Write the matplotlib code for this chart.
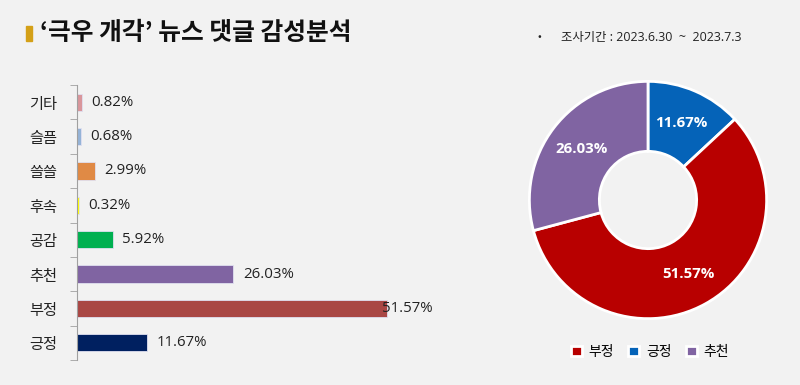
import numpy as np
import matplotlib.pyplot as plt
from matplotlib.patches import Rectangle

plt.rcParams['font.family'] = ['Noto Sans CJK KR', 'DejaVu Sans']
LATIN = ['Open Sans', 'Noto Sans CJK KR']

# 막대 그래프 데이터 (위에서 아래 순서)
bar_labels = ['기타', '슬픔', '쓸쓸', '후속', '공감', '추천', '부정', '긍정']
bar_values = [0.82, 0.68, 2.99, 0.32, 5.92, 26.03, 51.57, 11.67]
bar_colors = ['#D9969B', '#95B3D7', '#E08A45', '#FFFF00', '#00B050',
              '#8064A2', '#A94744', '#002060']

# 도넛 데이터
pie_labels = ['긍정', '부정', '추천']
pie_values = [11.67, 51.57, 26.03]
pie_colors = ['#0563B8', '#B80000', '#8064A2']
legend_order = ['부정', '긍정', '추천']

BG = '#F2F2F2'

fig = plt.figure(figsize=(8, 3.85), dpi=100, facecolor=BG)

# 제목
fig.patches.append(Rectangle((26 / 800, 1 - 41 / 385), 6 / 800, 15 / 385,
                             transform=fig.transFigure, color='#D4A017'))
fig.text(40 / 800, 1 - 33 / 385, "‘극우 개각’ 뉴스 댓글 감성분석", fontsize=17.8,
         fontweight='bold', va='center', ha='left', color='#111111')
fig.text(538 / 800, 1 - 37 / 385, "•", fontsize=8, va='center', ha='left', color='#222222')
fig.text(561 / 800, 1 - 37 / 385, "조사기간 : 2023.6.30  ~  2023.7.3", fontsize=8.9,
         family=LATIN, va='center', ha='left', color='#222222')

# 가로 막대
ax = fig.add_axes([77 / 800, 1 - 360 / 385, 380 / 800, 275 / 385], facecolor=BG)
n = len(bar_labels)
y = np.arange(n)[::-1]
ax.barh(y, bar_values, height=0.5, color=bar_colors, edgecolor='#E0E0F0', linewidth=0.6)
vmax = max(bar_values)
for yi, v in zip(y, bar_values):
    x = v - 0.8 if v == vmax else v + 1.6
    ax.text(x, yi, f'{v:.2f}%', va='center', ha='left', fontsize=10.8,
            family=LATIN, color='#222222')
ax.set_xlim(0, 63.3)
ax.set_ylim(-0.5, n - 0.5)
ax.set_yticks(y)
ax.set_yticklabels(bar_labels, fontsize=11, color='#222222')
ax.set_yticks(np.arange(n + 1) - 0.5, minor=True)
ax.tick_params(axis='y', which='major', length=0, pad=14)
ax.tick_params(axis='y', which='minor', length=5, color='#A0A0A0')
ax.set_xticks([])
for s in ['top', 'right', 'bottom']:
    ax.spines[s].set_visible(False)
ax.spines['left'].set_color('#A0A0A0')

# 도넛
ax2 = fig.add_axes([(648 - 121) / 800, 1 - (200 + 121) / 385, 242 / 800, 242 / 385])
ax2.set_facecolor(BG)
wedges, _ = ax2.pie(pie_values, colors=pie_colors, startangle=90, counterclock=False,
                    wedgeprops=dict(width=0.59, edgecolor='white', linewidth=2))
for w, v in zip(wedges, pie_values):
    ang = np.deg2rad((w.theta1 + w.theta2) / 2)
    r = 0.71
    ax2.text(r * np.cos(ang), r * np.sin(ang), f'{v:.2f}%', ha='center', va='center',
             fontsize=10.8, fontweight='bold', family=LATIN, color='white')
ax2.set_xlim(-1.02, 1.02)
ax2.set_ylim(-1.02, 1.02)
ax2.set_aspect('equal')

handles = [wedges[pie_labels.index(k)] for k in legend_order]
fig.legend(handles, legend_order, loc='center', bbox_to_anchor=(650 / 800, 1 - 352 / 385),
           ncol=3, frameon=False, fontsize=10, handlelength=0.8, handleheight=0.8,
           handletextpad=0.5, columnspacing=1.0)

fig.savefig('out.png', dpi=100, facecolor=BG)
